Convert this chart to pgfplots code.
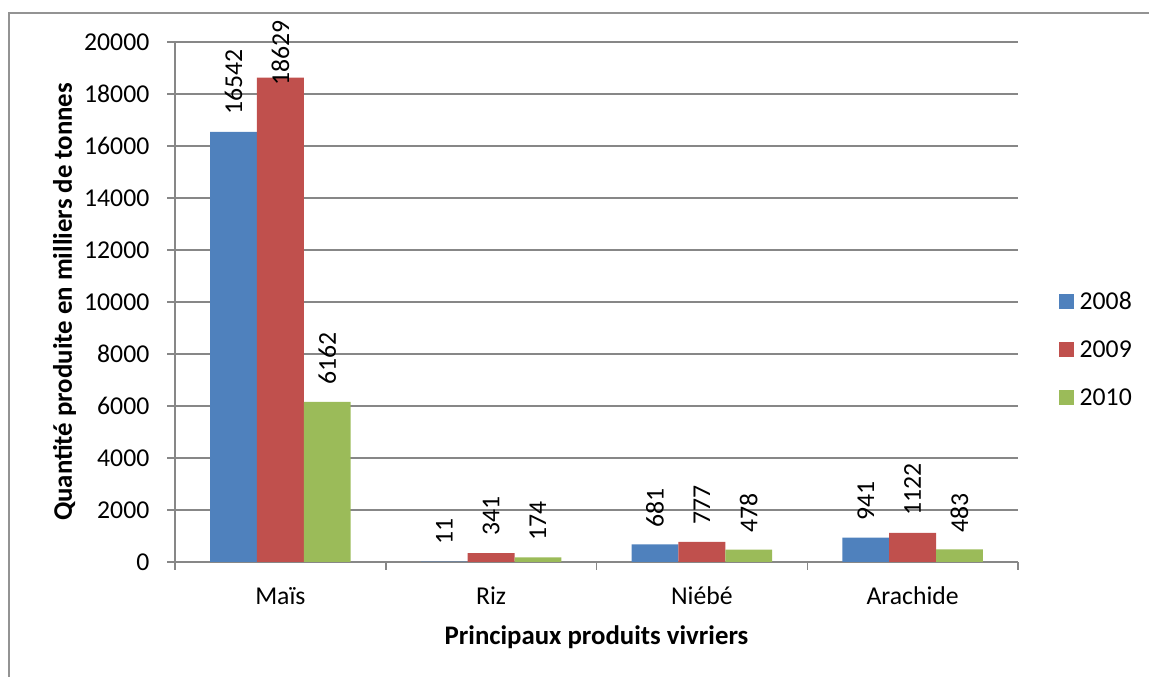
\documentclass[border=0pt]{standalone}
\usepackage{fontspec}
\setmainfont{Carlito}
\usepackage{pgfplots}
\usepackage{pgfplotstable}
\pgfplotsset{compat=1.18}
\definecolor{cblue}{HTML}{4F81BD}
\definecolor{cred}{HTML}{C0504D}
\definecolor{cgreen}{HTML}{9BBB59}
\definecolor{cgrid}{HTML}{878787}
\pgfplotstableread{
x y off
0 16542 17
1 11 17
2 681 17
3 941 17
}\tA
\pgfplotstableread{
x y off
0 18629 -8
1 341 17
2 777 17
3 1122 17
}\tB
\pgfplotstableread{
x y off
0 6162 17
1 174 17
2 478 17
3 483 17
}\tC
\begin{document}
\begin{tikzpicture}[x=1pt,y=1pt]
\useasboundingbox (0,0) rectangle (1149,677);
\draw[line width=2pt, color=cgrid!90] (9,0) -- (9,664) -- (1149,664);
\begin{axis}[
  at={(175pt,115pt)}, anchor=south west,
  scale only axis, width=843pt, height=520pt,
  font=\fontsize{25.7}{30}\selectfont,
  /pgf/number format/assume math mode=true,
  /pgf/number format/1000 sep={},
  xmin=-0.5, xmax=3.5, ymin=0, ymax=20000,
  ytick={0,2000,...,20000},
  xtick={0,1,2,3},
  xticklabels={Maïs,Riz,Niébé,Arachide},
  minor xtick={-0.5,0.5,1.5,2.5,3.5},
  axis x line*=bottom, axis y line*=left,
  axis line style={cgrid, line width=1.5pt, -},
  tick align=outside,
  major tick length=8pt, minor tick length=8pt,
  major x tick style={draw=none},
  minor x tick style={cgrid, line width=1.5pt},
  major y tick style={cgrid, line width=1.5pt},
  ymajorgrids, major grid style={cgrid, line width=1.5pt},
  yticklabel style={anchor=east, inner sep=0pt, xshift=-17.5pt},
  xticklabel style={anchor=base, inner sep=0pt, yshift=-35pt},
  scaled y ticks=false,
  xlabel={\fontsize{26.8}{32}\selectfont\bfseries Principaux produits vivriers},
  ylabel={\fontsize{26.8}{32}\selectfont\bfseries Quantité produite en milliers de tonnes},
  xlabel style={at={(rel axis cs:0.5,-0.1577)}, anchor=base, inner sep=0pt},
  ylabel style={at={(rel axis cs:-0.1222,0.5)}, anchor=base, inner sep=0pt},
  legend style={draw=none, fill=none, at={(rel axis cs:1.0486,0.5173)}, anchor=north west,
    inner sep=0pt, row sep=32pt, column sep=5.5pt,
    nodes={inner sep=0pt, text height=16pt, text depth=0pt},
    font=\fontsize{25.7}{30}\selectfont},
  legend cell align=left,
  legend image code/.code={\fill[#1, draw=none] (0pt,-7.5pt) rectangle (15pt,7.5pt);},
  nodes near coords,
  every node near coord/.append style={font=\fontsize{25.7}{30}\selectfont, inner sep=0pt},
]
\addplot[ybar, bar width=0.2222, bar shift=0, fill=cblue, draw=none,
  visualization depends on={\thisrow{off}\as\off},
  nodes near coords style={yshift=\off pt, rotate=90, anchor=west}]
  table[x expr=\thisrow{x}-0.2222, y=y] {\tA};
\addlegendentry{2008}
\addplot[ybar, bar width=0.2222, bar shift=0, fill=cred, draw=none,
  visualization depends on={\thisrow{off}\as\off},
  nodes near coords style={yshift=\off pt, rotate=90, anchor=west}]
  table[x=x, y=y] {\tB};
\addlegendentry{2009}
\addplot[ybar, bar width=0.2222, bar shift=0, fill=cgreen, draw=none,
  visualization depends on={\thisrow{off}\as\off},
  nodes near coords style={yshift=\off pt, rotate=90, anchor=west}]
  table[x expr=\thisrow{x}+0.2222, y=y] {\tC};
\addlegendentry{2010}
\end{axis}
\end{tikzpicture}
\end{document}
